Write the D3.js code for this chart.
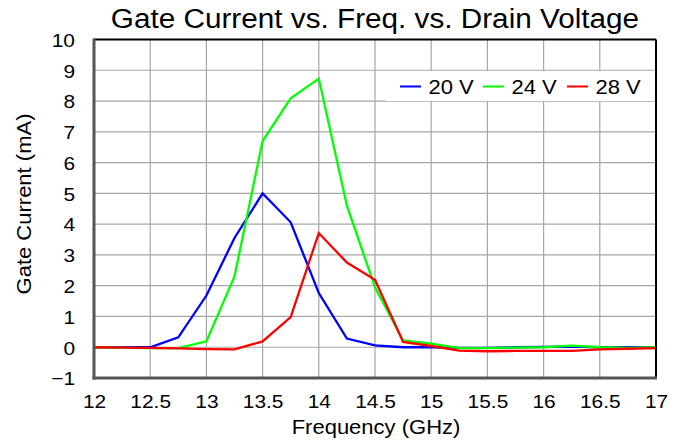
<!DOCTYPE html>
<html>
<head>
<meta charset="utf-8">
<script src="https://cdn.jsdelivr.net/npm/d3@7"></script>
<style>
  body { margin: 0; background: #fff; }
  text { font-family: "Liberation Sans", Arial, sans-serif; fill: #000; }
</style>
</head>
<body>
<div id="chart"></div>
<script>
// ---- data ----
var freqs = [12, 12.25, 12.5, 12.75, 13, 13.25, 13.5, 13.75, 14, 14.25, 14.5, 14.75,
             15, 15.25, 15.5, 15.75, 16, 16.25, 16.5, 16.75, 17];
var v20 = [0, 0, 0, 0.32, 1.68, 3.55, 5.0, 4.06, 1.76, 0.28, 0.06, 0.0,
           0.0, -0.02, -0.02, 0.0, 0.01, 0.02, 0.0, 0.0, 0.0];
var v24 = [0, -0.02, -0.03, -0.03, 0.19, 2.3, 6.7, 8.09, 8.73, 4.6, 1.95, 0.22,
           0.12, -0.03, -0.03, -0.01, 0.0, 0.05, 0.0, -0.02, 0.0];
var v28 = [0, -0.01, -0.02, -0.04, -0.06, -0.07, 0.19, 0.98, 3.71, 2.75, 2.19, 0.17,
           0.04, -0.11, -0.13, -0.12, -0.12, -0.12, -0.07, -0.05, -0.03];
var seriesNames = ["20 V", "24 V", "28 V"];
var seriesColors = ["#0000ff", "#00ff00", "#ff0000"];
var xTicks = [12, 12.5, 13, 13.5, 14, 14.5, 15, 15.5, 16, 16.5, 17];
var yTicks = [-1, 0, 1, 2, 3, 4, 5, 6, 7, 8, 9, 10];

var width = 683, height = 440;
var margin = {top: 39.5, right: 27, bottom: 62, left: 94};
var plotW = width - margin.left - margin.right,
    plotH = height - margin.top - margin.bottom;

// the reference text is a little wider than the font, stretch it
var stretchK = 1.1;
function stretch(sel) {
  sel.each(function() {
    var len = this.getComputedTextLength();
    d3.select(this).attr("textLength", len * stretchK).attr("lengthAdjust", "spacingAndGlyphs");
  });
}

var svg = d3.select("#chart").append("svg")
  .attr("width", width)
  .attr("height", height);

var x = d3.scaleLinear().domain([12, 17]).range([margin.left, margin.left + plotW]);
var y = d3.scaleLinear().domain([-1, 10]).range([margin.top + plotH, margin.top]);

// title
svg.append("text")
  .attr("x", 375)
  .attr("y", 28)
  .attr("text-anchor", "middle")
  .attr("font-size", "27px")
  .text("Gate Current vs. Freq. vs. Drain Voltage")
  .call(stretch);

// grid
svg.append("g").selectAll("line.vg")
  .data(xTicks)
  .enter().append("line")
  .attr("x1", function(d) { return x(d); })
  .attr("x2", function(d) { return x(d); })
  .attr("y1", y(10))
  .attr("y2", y(-1))
  .attr("stroke", "#a6a6a6")
  .attr("stroke-width", 1.2);

svg.append("g").selectAll("line.hg")
  .data(yTicks)
  .enter().append("line")
  .attr("x1", x(12))
  .attr("x2", x(17))
  .attr("y1", function(d) { return y(d); })
  .attr("y2", function(d) { return y(d); })
  .attr("stroke", "#a6a6a6")
  .attr("stroke-width", 1.2);

// axes (labels only)
var xAxis = svg.append("g")
  .attr("transform", "translate(0," + (margin.top + plotH) + ")")
  .call(d3.axisBottom(x).tickValues(xTicks).tickSize(0).tickPadding(17).tickFormat(d3.format("")));
var yAxis = svg.append("g")
  .attr("transform", "translate(" + margin.left + ",0)")
  .call(d3.axisLeft(y).tickValues(yTicks).tickSize(0).tickPadding(19).tickFormat(d3.format("")));
[xAxis, yAxis].forEach(function(a) {
  a.select(".domain").remove();
  a.selectAll("text")
    .attr("font-size", "19px")
    .attr("font-family", "Liberation Sans, Arial, sans-serif")
    .attr("fill", "#000")
    .call(stretch);
});
yAxis.selectAll("text").attr("dy", "0.36em");

// axis titles
svg.append("text")
  .attr("x", 376)
  .attr("y", 434)
  .attr("text-anchor", "middle")
  .attr("font-size", "20px")
  .text("Frequency (GHz)")
  .call(stretch);

svg.append("text")
  .attr("transform", "translate(31,204) rotate(-90)")
  .attr("text-anchor", "middle")
  .attr("font-size", "20px")
  .text("Gate Current (mA)")
  .call(stretch);

// legend background (covers grid)
var legend = svg.append("g");
legend.append("rect")
  .attr("x", 386)
  .attr("y", 71)
  .attr("width", 268)
  .attr("height", 30)
  .attr("fill", "#fff");

// series
var line = d3.line()
  .x(function(d, i) { return x(freqs[i]); })
  .y(function(d) { return y(d); });

[v20, v24, v28].forEach(function(vals, k) {
  svg.append("path")
    .datum(vals)
    .attr("d", line)
    .attr("fill", "none")
    .attr("stroke", seriesColors[k])
    .attr("stroke-width", 2.3)
    .attr("stroke-linejoin", "miter");
});

// legend items
var legX = [400, 483, 567];
seriesNames.forEach(function(name, k) {
  legend.append("line")
    .attr("x1", legX[k])
    .attr("x2", legX[k] + 21)
    .attr("y1", 86.5)
    .attr("y2", 86.5)
    .attr("stroke", seriesColors[k])
    .attr("stroke-width", 2);
  legend.append("text")
    .attr("x", legX[k] + 28.5)
    .attr("y", 93.5)
    .attr("font-size", "20px")
    .text(name)
    .call(stretch);
});

// frame
svg.append("line")
  .attr("x1", x(12)).attr("x2", x(17)).attr("y1", y(10)).attr("y2", y(10))
  .attr("stroke", "#000").attr("stroke-width", 2);
svg.append("line")
  .attr("x1", x(17)).attr("x2", x(17)).attr("y1", y(10)).attr("y2", y(-1))
  .attr("stroke", "#000").attr("stroke-width", 2);
svg.append("line")
  .attr("x1", x(12)).attr("x2", x(12)).attr("y1", y(10) - 1).attr("y2", y(-1) + 1.5)
  .attr("stroke", "#555").attr("stroke-width", 3);
svg.append("line")
  .attr("x1", x(12) - 1.5).attr("x2", x(17) + 1).attr("y1", y(-1)).attr("y2", y(-1))
  .attr("stroke", "#555").attr("stroke-width", 3);
</script>
</body>
</html>
